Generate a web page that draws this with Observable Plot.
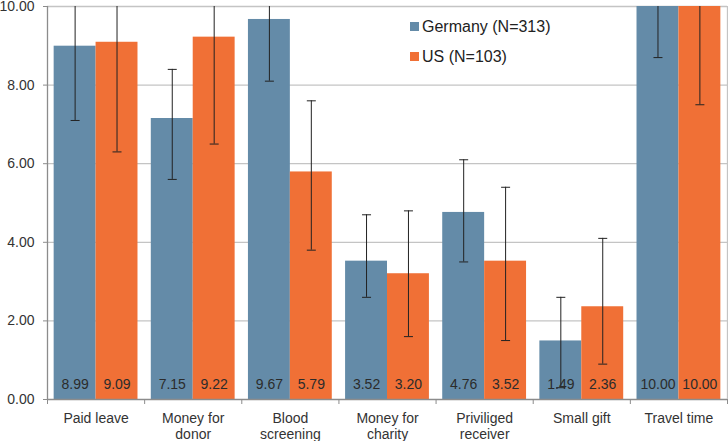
<!DOCTYPE html>
<html>
<head>
<meta charset="utf-8">
<script src="https://cdn.jsdelivr.net/npm/d3@7"></script>
<script src="https://cdn.jsdelivr.net/npm/@observablehq/plot@0.6"></script>
<style>
  body { margin: 0; background: #fff; font-family: "Liberation Sans", Arial, sans-serif; }
  #wrap { position: relative; width: 728px; height: 441px; overflow: hidden; }
  #legend { position: absolute; left: 410px; top: 12px; font-size: 16px; color: #222; line-height: 30px; }
  #legend .sw { display: inline-block; width: 9px; height: 9px; margin-right: 3px; vertical-align: 1px; }
</style>
</head>
<body>
<div id="wrap"></div>
<script>
const categories = ["Paid leave", "Money for\ndonor", "Blood\nscreening", "Money for\ncharity", "Priviliged\nreceiver", "Small gift", "Travel time"];
const series = ["Germany (N=313)", "US (N=103)"];
const germany = [8.99, 7.15, 9.67, 3.52, 4.76, 1.49, 10.00];
const us = [9.09, 9.22, 5.79, 3.20, 3.52, 2.36, 10.00];
const germanyLow = [7.1, 5.6, 8.1, 2.6, 3.5, 0.3, 8.7];
const germanyHigh = [10.9, 8.4, 11.2, 4.7, 6.1, 2.6, 11.3];
const usLow = [6.3, 6.5, 3.8, 1.6, 1.5, 0.9, 7.5];
const usHigh = [11.9, 11.9, 7.6, 4.8, 5.4, 4.1, 12.5];
const yTicks = [0, 2, 4, 6, 8, 10];
const colors = ["#648ba8", "#f07036"];

// group layout in category-index units (Excel style gap)
const group = d3.scaleBand().domain(d3.range(categories.length)).range([0, categories.length])
  .paddingInner(0.137).paddingOuter(0.0685);
const sub = d3.scaleBand().domain(series).range([0, group.bandwidth()]);

const rows = [];
categories.forEach((c, i) => {
  [[germany, germanyLow, germanyHigh], [us, usLow, usHigh]].forEach(([v, lo, hi], k) => {
    const s = series[k];
    const x1 = group(i) + sub(s);
    rows.push({cat: c, series: s, value: v[i], lo: lo[i], hi: hi[i], x1, x2: x1 + sub.bandwidth(), xc: x1 + sub.bandwidth() / 2});
  });
});
const caps = rows.flatMap(d => [{xc: d.xc, y: d.lo}, {xc: d.xc, y: d.hi}]);
const capSymbol = { draw(ctx) { ctx.moveTo(-4.5, 0); ctx.lineTo(4.5, 0); } };

const chart = Plot.plot({
  width: 728,
  height: 441,
  marginLeft: 47,
  marginRight: 1,
  marginTop: 6,
  marginBottom: 42,
  style: { fontFamily: "Liberation Sans, Arial, sans-serif", fontSize: "14px", color: "#333", background: "#fff", overflow: "visible" },
  x: { type: "linear", domain: [0, categories.length], axis: null },
  y: { domain: [0, 10], axis: null },
  color: { domain: series, range: colors },
  marks: [
    Plot.ruleY(yTicks.filter(t => t > 0), { stroke: "#c4c4c4", strokeWidth: 1.3 }),
    Plot.ruleX([categories.length], { y1: 0, y2: 10, stroke: "#c4c4c4", strokeWidth: 1.3 }),
    Plot.rectY(rows, { x1: "x1", x2: "x2", y1: 0, y2: "value", fill: "series" }),
    Plot.ruleX(rows, { x: "xc", y1: "lo", y2: "hi", stroke: "#222", strokeWidth: 1, clip: true }),
    Plot.dot(caps, { x: "xc", y: "y", symbol: capSymbol, stroke: "#222", strokeWidth: 1, fill: "none", clip: true }),
    Plot.text(rows, { x: "xc", y: 0, dy: -15, text: d => d3.format(".2f")(d.value), fill: "#2b2b2b", fontSize: 14 }),
    Plot.ruleX([0], { y1: 0, y2: 10, stroke: "#8c8c8c", strokeWidth: 1.3 }),
    Plot.ruleY([0], { stroke: "#8c8c8c", strokeWidth: 1.3 }),
    Plot.axisY({ ticks: yTicks, tickFormat: d3.format(".2f"), tickSize: 4, tickPadding: 9, stroke: "#8c8c8c", fontSize: 14, fill: "#333" }),
    Plot.axisX({ ticks: d3.range(categories.length + 1), tickFormat: () => "", tickSize: 5, stroke: "#8c8c8c" }),
    Plot.text(categories, { x: (d, i) => group(i) + group.bandwidth() / 2, frameAnchor: "bottom", dy: 12, lineAnchor: "top", lineHeight: 1.15, fontSize: 14, fill: "#333" })
  ]
});
const wrap = document.getElementById("wrap");
wrap.appendChild(chart);
const legend = document.createElement("div");
legend.id = "legend";
legend.innerHTML = series.map((s, k) => `<div><span class="sw" style="background:${colors[k]}"></span>${s}</div>`).join("");
wrap.appendChild(legend);
</script>
</body>
</html>
